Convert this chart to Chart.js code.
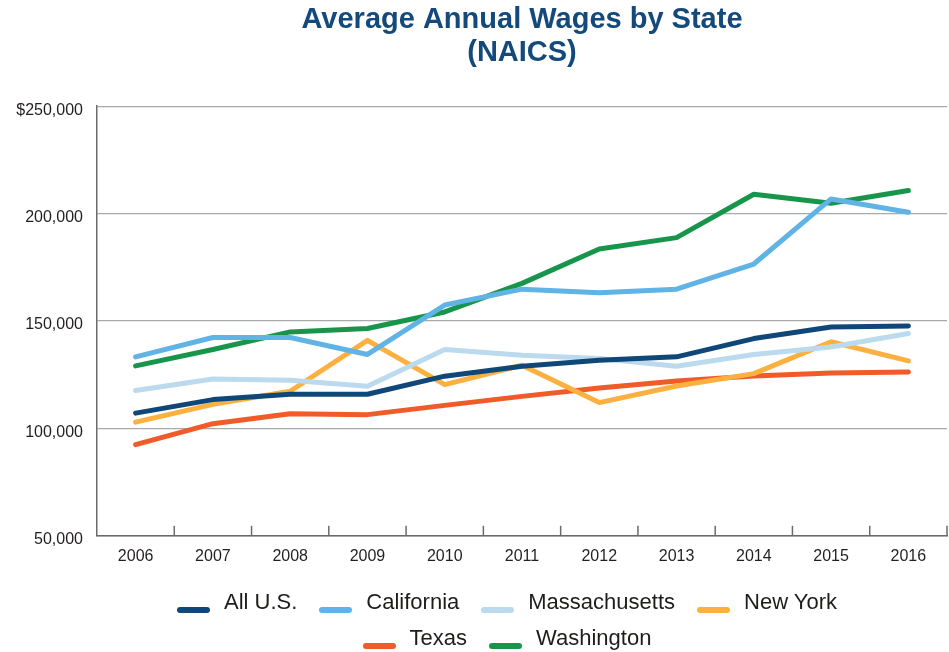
<!DOCTYPE html>
<html>
<head>
<meta charset="utf-8">
<script src="https://cdn.jsdelivr.net/npm/chart.js@4/dist/chart.umd.min.js"></script>
<style>
  body { margin: 0; background: #fff; }
  #wrap { position: relative; width: 949px; height: 652px; }
  #legend {
    position: absolute; left: 157px; width: 700px; top: 584px;
    text-align: center; font: 22px "Liberation Sans", Arial, sans-serif;
    color: #1d1d1b; line-height: 36px;
  }
  #legend .item { display: inline-block; margin: 0 11px; white-space: nowrap; }
  #legend .mark { display: inline-block; width: 33px; height: 6px; border-radius: 3px; margin-right: 14px; vertical-align: -4px; }
</style>
</head>
<body>
<div id="wrap">
  <canvas id="myChart" width="949" height="652"></canvas>
  <div id="legend"></div>
</div>
<script>
var years = ['2006', '2007', '2008', '2009', '2010', '2011', '2012', '2013', '2014', '2015', '2016'];

var allUS         = [107100, 113400, 115900, 115900, 124300, 128900, 131700, 133300, 141800, 147200, 147700];
var california    = [133300, 142300, 142300, 134400, 157400, 164800, 163100, 164800, 176500, 206800, 200600];
var massachusetts = [117600, 123000, 122400, 119600, 136700, 134000, 132500, 128900, 134400, 137900, 144200];
var newYork       = [102900, 111200, 117300, 141000, 120400, 129400, 112000, 119700, 125500, 140300, 131400];
var texas         = [ 92400, 102200, 106800, 106400, 110700, 114900, 118800, 122100, 124400, 125800, 126300];
var washington    = [129100, 136700, 144900, 146500, 154200, 167500, 183500, 188800, 209000, 204800, 210700];

var seriesNames  = ['All U.S.', 'California', 'Massachusetts', 'New York', 'Texas', 'Washington'];
var seriesData   = [allUS, california, massachusetts, newYork, texas, washington];
var seriesColors = ['#0f4778', '#5fb3e5', '#bbdaee', '#fbb040', '#f15a29', '#17964b'];

var yTicks = [50000, 100000, 150000, 200000, 250000];

var datasets = seriesNames.map(function(name, i) {
    return {
        label: name,
        data: seriesData[i],
        borderColor: seriesColors[i],
        backgroundColor: seriesColors[i],
        borderWidth: 5,
        borderCapStyle: 'round',
        borderJoinStyle: 'round',
        pointRadius: 0,
        tension: 0,
        fill: false
    };
});

// small tick marks between the years, pointing up into the plot
var xTickMarks = {
    id: 'xTickMarks',
    afterDraw: function(chart) {
        var x = chart.scales.x, ctx = chart.ctx, bottom = chart.chartArea.bottom;
        ctx.save();
        ctx.strokeStyle = '#6b6b6b';
        ctx.lineWidth = 1.5;
        for (var i = 0; i < years.length; i++) {
            var px = i < years.length - 1
                ? (x.getPixelForValue(i) + x.getPixelForValue(i + 1)) / 2
                : chart.chartArea.right;
            ctx.beginPath();
            ctx.moveTo(px, bottom);
            ctx.lineTo(px, bottom - 10);
            ctx.stroke();
        }
        ctx.restore();
    }
};

var myChart = new Chart(document.getElementById('myChart'), {
    type: 'line',
    data: { labels: years, datasets: datasets },
    plugins: [xTickMarks],
    options: {
        responsive: false,
        animation: false,
        layout: { padding: { left: 0, right: 2, top: 0, bottom: 82 } },
        plugins: {
            legend: { display: false },
            tooltip: { enabled: false },
            title: {
                display: true,
                fullSize: false,
                text: ['Average Annual Wages by State', '(NAICS)'],
                color: '#134a7b',
                font: { family: '"Liberation Sans", Arial, sans-serif', size: 29, weight: 'bold', lineHeight: 1.14 },
                padding: { top: 3, bottom: 37 }
            }
        },
        scales: {
            x: {
                offset: true,
                grid: { display: false },
                border: { display: true, color: '#6b6b6b', width: 1.5 },
                ticks: {
                    color: '#231f20',
                    padding: 3.5,
                    maxRotation: 0,
                    font: { family: '"Liberation Sans", Arial, sans-serif', size: 16 }
                }
            },
            y: {
                min: 50000,
                max: 250000,
                afterFit: function(scale) { scale.width = 97; },
                afterBuildTicks: function(scale) {
                    scale.ticks = yTicks.map(function(v) { return { value: v }; });
                },
                grid: { color: '#a9a9a9', lineWidth: 1.2, drawTicks: false },
                border: { display: true, color: '#6b6b6b', width: 1.5 },
                ticks: {
                    color: '#231f20',
                    padding: 14,
                    labelOffset: 4,
                    font: { family: '"Liberation Sans", Arial, sans-serif', size: 16 },
                    callback: function(v) {
                        var s = Number(v).toLocaleString('en-US');
                        return v === 250000 ? '$' + s : s;
                    }
                }
            }
        }
    }
});

// html legend, two centred rows like the original
var legendEl = document.getElementById('legend');
seriesNames.forEach(function(name, i) {
    var item = document.createElement('span');
    item.className = 'item';
    var mark = document.createElement('span');
    mark.className = 'mark';
    mark.style.background = seriesColors[i];
    item.appendChild(mark);
    item.appendChild(document.createTextNode(name));
    legendEl.appendChild(item);
});
</script>
</body>
</html>
